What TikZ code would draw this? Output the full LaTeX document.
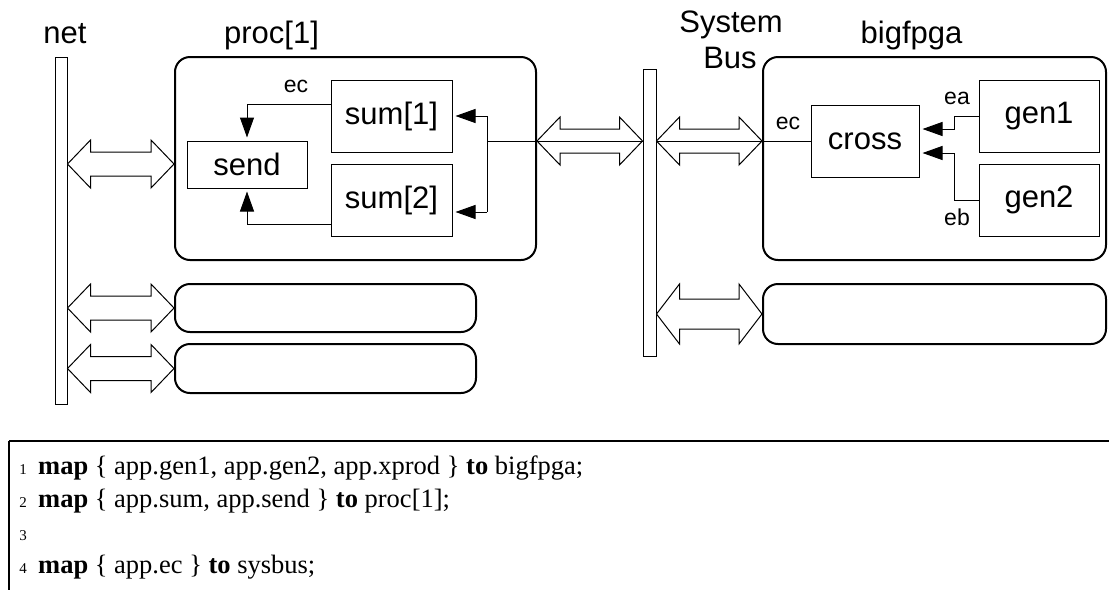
\documentclass[tikz,border=0pt]{standalone}
\usepackage{fontspec}
\setmainfont{Liberation Sans}
\newfontfamily\listingfont{Liberation Serif}
\usetikzlibrary{arrows.meta,calc}

% Hollow double-headed block arrow between two anchors at height #3
% #4 = half height of the heads, #5 = half height of the shaft
\newcommand\linkarrow[5]{%
  \draw[wire, fill=white] let \p1=(#1), \p2=(#2), \p3=(0,#3) in
    (\x1,\y3) -- (\x1+23pt,\y3+#4pt) -- (\x1+23pt,\y3+#5pt)
    -- (\x2-23pt,\y3+#5pt) -- (\x2-23pt,\y3+#4pt) -- (\x2,\y3)
    -- (\x2-23pt,\y3-#4pt) -- (\x2-23pt,\y3-#5pt)
    -- (\x1+23pt,\y3-#5pt) -- (\x1+23pt,\y3-#4pt) -- cycle;}

\begin{document}
\begin{tikzpicture}[x=1pt, y=-1pt,
  wire/.style={line width=1pt, line join=miter},
  sig/.style={wire, -{Triangle[length=20pt,width=14pt]}, shorten >=3pt},
  busbar/.style={draw, line width=1pt, fill=white, inner sep=0pt, minimum width=12pt},
  block/.style={draw, line width=1pt, fill=white, inner sep=0pt,
                font=\fontsize{31}{36}\selectfont},
  container/.style={draw, line width=2pt, rounded corners=15pt, inner sep=0pt},
  title/.style={anchor=base, font=\fontsize{31}{36}\selectfont},
  small/.style={font=\fontsize{23}{26}\selectfont, inner sep=0pt},
  codeline/.style={anchor=base west, inner sep=0pt, font=\listingfont\fontsize{26.5}{31}\selectfont},
  lineno/.style={anchor=base east, inner sep=0pt, font=\listingfont\fontsize{15}{17}\selectfont}]

\useasboundingbox (0,0) rectangle (1109,590);

% headings
\node[title] (netlbl)  at (65,43)    {net};
\node[title] (proclbl) at (271.5,43) {proc[1]};
\node[title] (fpgalbl) at (911.5,43) {bigfpga};
\node[title] (syslbl)  at (731,32)   {System};
\node[title] (buslbl)  at (730,68)   {Bus};

% buses
\node[busbar, minimum height=347pt] (net) at (61,230.5) {};
\node[busbar, minimum width=13pt, minimum height=287pt] (bus) at (649.5,212.5) {};

% processor and its neighbours
\node[container, minimum width=361pt, minimum height=203pt] (proc) at (355.5,158.5) {};
\node[container, minimum width=301pt, minimum height=48pt]  (procB) at (325.5,308) {};
\node[container, minimum width=301pt, minimum height=49pt]  (procC) at (325.5,368.5) {};

% FPGA and its neighbour
\node[container, minimum width=343pt, minimum height=203pt] (fpga) at (934.5,158.5) {};
\node[container, minimum width=343pt, minimum height=60pt]  (fpgaB) at (934.5,314) {};

% processes
\node[block, minimum width=120pt, minimum height=47pt] (send) at (247,164.5) {send};
\node[block, minimum width=121pt, minimum height=72pt] (sum1) at (391.5,116) {sum[1]};
\node[block, minimum width=121pt, minimum height=72pt] (sum2) at (391.5,200) {sum[2]};
\node[block, minimum width=108pt, minimum height=72pt] (cross) at (865,141) {cross};
\node[block, minimum width=120pt, minimum height=72pt] (gen1) at (1039,116) {gen1};
\node[block, minimum width=120pt, minimum height=72pt] (gen2) at (1039,200) {gen2};

% bus connections
\linkarrow{net.east}{proc.west}{164}{24}{12}
\linkarrow{net.east}{procB.west}{308}{24}{12}
\linkarrow{net.east}{procC.west}{368.5}{24}{12}
\linkarrow{proc.east}{bus.west}{141}{24}{12}
\linkarrow{bus.east}{fpga.west}{141}{24}{12}
\linkarrow{bus.east}{fpgaB.west}{314}{30}{15}

% channel ec across the system bus
\coordinate (jn) at (487,141);
\coordinate (s2in) at ($(sum2.east)+(0,12)$);
\draw[wire] (jn |- sum1.east) -- (jn |- s2in);
\draw[sig] (jn |- sum1.east) -- (sum1.east);
\draw[sig] (jn |- s2in) -- (s2in);
\draw[wire] (jn) -- (jn -| bus.west);
\draw[wire] (bus.east |- cross.west) -- (cross.west);

% sums feed send
\coordinate (s1out) at ($(sum1.west)+(0,-12)$);
\coordinate (s2out) at ($(sum2.west)+(0,24)$);
\draw[sig] (s1out) -| (send.north);
\draw[sig] (s2out) -| (send.south);

% generators feed cross
\coordinate (cin1) at ($(cross.east)+(0,-12)$);
\coordinate (cin2) at ($(cross.east)+(0,12)$);
\draw[sig] (gen1.west) -- ++(-24,0) |- (cin1);
\draw[sig] (gen2.west) -- ++(-24,0) |- (cin2);

% channel names
\node[small] (ecP) at (296,86)  {ec};
\node[small] (ecF) at (788,123) {ec};
\node[small] (ea)  at (957,98)  {ea};
\node[small] (eb)  at (957,217) {eb};

% mapping listing
\coordinate (frameTL) at (9,441);
\draw[line width=2.5pt] (frameTL) -- (1109,441);
\draw[line width=1.5pt] (frameTL) -- (9,590);
\node[lineno] (n1) at (27,474) {1};
\node[lineno] (n2) at (27,507) {2};
\node[lineno] (n3) at (27,540) {3};
\node[lineno] (n4) at (27,573) {4};
\node[codeline] (c1) at (38,474) {\textbf{map} \{ app.gen1, app.gen2, app.xprod \} \textbf{to} bigfpga;};
\node[codeline] (c2) at (38,507) {\textbf{map} \{ app.sum, app.send \} \textbf{to} proc[1];};
\node[codeline] (c4) at (38,573) {\textbf{map} \{ app.ec \} \textbf{to} sysbus;};
\end{tikzpicture}
\end{document}
